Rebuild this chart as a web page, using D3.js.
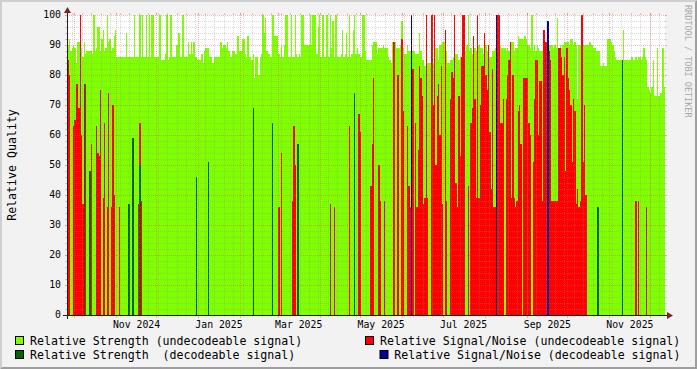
<!DOCTYPE html>
<html>
<head>
<meta charset="utf-8">
<script src="https://cdn.jsdelivr.net/npm/d3@7"></script>
<style>
  body { margin: 0; background: #f2f2f2; }
  svg { display: block; }
  text { font-family: "DejaVu Sans Mono", monospace; }
</style>
</head>
<body>
<svg id="chart" width="697" height="369"></svg>
<script>
// one value per day, starting at firstDay
var firstDay = "2024-09-25";

var strengthUndecodeable = [
  90, 90,92,88,89,90,89,84,91,91,91,89,86,91,87,88,88,88,88,87,100,88,89,96,96,88,92,95,88,89,100,91,92,88,89,93,95,
  86,86,86,86,86,86,86,94,86,86,86,86,86,100,86,86,86,100,86,100,86,86,100,86,100,86,100,100,86,86,86,86,100,85,85,85,
  87,100,85,86,100,86,86,86,90,90, 94,86,86,100,86,86,86,91,87,91, 87,91,86,86,85,85,85,87,84,88,
  89,89,89,86,86,84,86,86,86,86, 86,91,89,90,90,89,91,88,86,86, 88,88,87,93,93,88,88,92,92,87,
  86,93,86,86,85,87,79,86,86,80, 86,87,100,94,99,
  88,87,87,86,100,100,93,93,93,87, 86,90,86,90,100,100,86,86,100,86, 86,100,87,86,87,86,100,100,90,90,
  90,90,100,90,100,100,100,87,96,100, 86,100,100,86,100,100,86,100,89,98, 86,100,86,86,86,87,95,86,87,94,
  86,100,86,87,95,100,87,89,87,86, 86,100,
  100,88,85,85,85,85,90,91,91,91, 87,89,89,89,90,89,89,89,86,85, 84,91,91,91,89,89,89,90,98,89,
  87,87,90,88,88,85,88,88,87,87, 87,94,88,85,85,83,84,84,84,84, 84,84,89,89,89,85,90,90,91,91,
  88,88,84,84,85,85,86,86,87,87, 85,86,86,88,89,
  88,90,100,88,89,87,92,89,88,88, 90,89,89,87,90,90,88,86,86,86, 88,88,89,90,88,87,90,89,89,89,
  88,89,88,91,91,91,88,89,89,93, 92,92,92,92,93,92,90,90,89,100, 88,90,88,90,89,88,88,88,91,91,
  91,91,90,90,90,89,90,89,99,89, 90,89,90,91,91,91,91,90,92,92, 90,91,90,72,90,90,90,90,90,90,
  90,90,91,90,90,89,89,88,88,88, 83,83,84,83,83,92,92,92,91,90, 88,86,85,85,85,85,85,95,85,85,
  85,85,85,86,85,85,86,85,86,86, 85,86,89,86,85,76,75,74,76,85, 73,73,89,73,74,74,89,76
];

var snrUndecodeable = [
  85, 85,80,0,0,63,65,77,77,69,100, 60,37,0,77,0,0,48,57,0,0, 0,63,54,53,75,0,39,64,0,36, 74,0,36,70,40,0,
  0,0,36,0,0,0,0,0,0,37, 0,0,59,0,0,0,37,64,38,0, 0,0,0,0,0,0,0,0,0,0, 0,0,0,0,0,0,
  0,0,0,0,0,0,0,0,0,0, 0,0,0,0,0,0,0,0,0,0, 0,0,0,46,0,0,0,0,0,0, 0,0,51,0,0,0,0,0,0,0,
  0,0,0,0,0,0,0,0,0,0, 0,0,0,0,0,0,0,0,0,0, 0,0,0,0,0,69,0,0,0,0, 0,0,0,0,0,
  0,0,0,0,64,0,0,0,0,36, 0,54,0,0,0,0,0,0,0,38, 63,50,0,57,0,0,0,0,0,0, 0,0,0,0,0,0,0,0,0,0,
  0,0,0,0,0,0,0,37,0,0, 36,0,0,0,0,0,0,0,0,0, 0,63,0,0,0,74,0,0,67,61, 0,0,
  0,0,0,0,0,43,57,79,0,0, 0,50,38,0,0,38,0,0,0,0, 0,0,91,0,0,80,0,0,92,68, 0,0,63,43,36,100,82,0,64,36,
  55,83,79,73,37,39,100,39,0,0, 100,70,100,50,73,77,60,83,37,0, 95,38,0,0,72,81,79,100,44,36, 73,53,86,100,100,
  0,0,43,0,64,69,93,72,39,100, 39,70,83,83,94,80,75,90,61,42, 82,36,36,100,100,100,64,64,72,0,
  72,80,85,91,39,80,39,36,38,68, 70,57,0,79,79,79,79,64,60,0, 51,72,85,85,60,78,78,38,95,91,
  91,98,88,85,38,38,38,38,38,89, 89,86,80,86,48,89,79,75,70,51, 72,68,37,42,36,38,100,51,70,40,
  0,0,0,0,0,0,0,0,36,0, 0,0,0,0,0,0,0,0,0,0, 0,0,0,0,0,0,85,0,0,0, 0,0,0,0,0,0,38,0,38,0,
  0,0,0,0,36,0,0,0,0,0, 0,0,0,0,0,0,0,0
];

var strengthDecodeableDays = ["2024-10-08", "2024-10-12", "2024-11-10", "2024-11-13", "2024-11-18", "2024-12-30",
  "2025-01-08", "2025-02-10", "2025-02-24", "2025-03-15", "2025-04-26", "2025-10-23", "2025-11-10"];
var strengthDecodeable = [77, 48, 37, 59, 50, 46, 51, 69, 64, 57, 74, 36, 85];

var snrDecodeableDays = ["2025-06-07", "2025-08-09", "2025-09-16"];
var snrDecodeable = [100, 100, 98];

var yTicks = [0, 10, 20, 30, 40, 50, 60, 70, 80, 90, 100];
var xLabelMonths = ["2024-11", "2025-01", "2025-03", "2025-05", "2025-07", "2025-09", "2025-11"];

var width = 697;
var height = 369;
// plot box (note: "top" is reserved on window, so use own names)
var plotLeft = 67, plotRight = 665, plotTop = 15, plotBottom = 315;

var parseDay = d3.timeParse("%Y-%m-%d");
var parseMonth = d3.timeParse("%Y-%m");
var start = parseDay(firstDay);

// scales
var xScale = d3.scaleTime()
    .domain([d3.timeHour.offset(start, 14), d3.timeDay.offset(start, strengthUndecodeable.length)])
    .range([plotLeft, plotRight]);
var yScale = d3.scaleLinear().domain([0, 100]).range([plotBottom, plotTop]);

var svg = d3.select("#chart");

// background + 3d border
svg.append("rect").attr("width", width).attr("height", height).attr("fill", "#f2f2f2");
svg.append("polygon").attr("points", "0,0 697,0 695,2 2,2 2,367 0,369").attr("fill", "#cfcfcf");
svg.append("polygon").attr("points", "0,369 2,367 695,367 695,2 697,0 697,369").attr("fill", "#9e9e9e");

// canvas
svg.append("rect")
    .attr("x", plotLeft).attr("y", plotTop)
    .attr("width", plotRight - plotLeft).attr("height", plotBottom - plotTop)
    .attr("fill", "#ffffff");

svg.append("clipPath").attr("id", "plotClip")
    .append("rect")
    .attr("x", plotLeft).attr("y", plotTop)
    .attr("width", plotRight - plotLeft).attr("height", plotBottom - plotTop);

function stepData(values) {
    var pts = values.map(function(v, i) {
        return { date: d3.timeDay.offset(start, i), v: v };
    });
    pts.push({ date: d3.timeDay.offset(start, values.length), v: values[values.length - 1] });
    return pts;
}

var area = d3.area()
    .curve(d3.curveStepAfter)
    .x(function(d) { return xScale(d.date); })
    .y0(yScale(0))
    .y1(function(d) { return yScale(d.v); });

var plot = svg.append("g").attr("clip-path", "url(#plotClip)");

// relative strength (undecodeable)
plot.append("path")
    .datum(stepData(strengthUndecodeable))
    .attr("fill", "#7fff00")
    .attr("shape-rendering", "crispEdges")
    .attr("d", area);

// relative signal/noise (undecodeable)
plot.append("path")
    .datum(stepData(snrUndecodeable))
    .attr("fill", "#ff0000")
    .attr("shape-rendering", "crispEdges")
    .attr("d", area);

function dayBars(days, values, color) {
    var rows = days.map(function(s, i) { return { date: parseDay(s), v: values[i] }; });
    plot.selectAll(null)
        .data(rows)
        .enter()
        .append("rect")
        .attr("x", function(d) { return xScale(d.date); })
        .attr("width", function(d) { return xScale(d3.timeDay.offset(d.date, 1)) - xScale(d.date); })
        .attr("y", function(d) { return yScale(d.v); })
        .attr("height", function(d) { return yScale(0) - yScale(d.v); })
        .attr("fill", color)
        .attr("shape-rendering", "crispEdges");
}
dayBars(strengthDecodeableDays, strengthDecodeable, "#006600");
dayBars(snrDecodeableDays, snrDecodeable, "#000099");

// grid (drawn on top, like rrdtool)
var grid = svg.append("g").attr("shape-rendering", "crispEdges");
var minorColor = "rgba(143,143,143,0.33)";
var majorColor = "rgba(222,80,80,0.4)";

d3.range(0, 101, 2).forEach(function(v) {
    var major = v % 10 === 0;
    var yy = Math.round(yScale(v)) + 0.5;
    var c = major ? majorColor : minorColor;
    if (v > 0) {
        grid.append("line")
            .attr("x1", plotLeft - (major ? 2 : 1)).attr("x2", plotRight + (major ? 2 : 1))
            .attr("y1", yy).attr("y2", yy)
            .attr("stroke", c).attr("stroke-dasharray", "1,1");
    }
    grid.append("line").attr("x1", plotLeft - 2).attr("x2", plotLeft).attr("y1", yy).attr("y2", yy).attr("stroke", c);
    grid.append("line").attr("x1", plotRight).attr("x2", plotRight + 2).attr("y1", yy).attr("y2", yy).attr("stroke", c);
});

var weeks = d3.timeMonday.range(xScale.domain()[0], xScale.domain()[1]);
var months = d3.timeMonth.range(xScale.domain()[0], xScale.domain()[1]);

function vLine(d, major) {
    var xx = Math.floor(xScale(d)) + 0.5;
    var c = major ? majorColor : minorColor;
    grid.append("line")
        .attr("x1", xx).attr("x2", xx)
        .attr("y1", plotTop - (major ? 2 : 1)).attr("y2", plotBottom + (major ? 3 : 1))
        .attr("stroke", c).attr("stroke-dasharray", "1,1");
    grid.append("line").attr("x1", xx).attr("x2", xx).attr("y1", plotTop - 2).attr("y2", plotTop).attr("stroke", c);
    grid.append("line").attr("x1", xx).attr("x2", xx).attr("y1", plotBottom).attr("y2", plotBottom + 2).attr("stroke", c);
}
weeks.forEach(function(d) { vLine(d, false); });
months.forEach(function(d) { vLine(d, true); });

// axes
svg.append("line")
    .attr("x1", plotLeft - 4).attr("x2", plotRight + 4)
    .attr("y1", plotBottom + 0.5).attr("y2", plotBottom + 0.5)
    .attr("stroke", "#202020");
svg.append("line")
    .attr("x1", plotLeft + 0.5).attr("x2", plotLeft + 0.5)
    .attr("y1", plotBottom + 4).attr("y2", plotTop - 4)
    .attr("stroke", "#202020");
svg.append("polygon")
    .attr("points", [[plotRight + 2, plotBottom - 3], [plotRight + 2, plotBottom + 4], [plotRight + 8, plotBottom + 0.5]].join(" "))
    .attr("fill", "#802020");
svg.append("polygon")
    .attr("points", [[plotLeft - 3, plotTop - 2], [plotLeft + 4, plotTop - 2], [plotLeft + 0.5, plotTop - 8]].join(" "))
    .attr("fill", "#802020");

// y tick labels
svg.append("g").selectAll("text")
    .data(yTicks)
    .enter()
    .append("text")
    .attr("x", 61)
    .attr("y", function(d) { return yScale(d) + 3.4; })
    .attr("text-anchor", "end")
    .attr("font-size", "9.8px")
    .attr("fill", "#000")
    .text(function(d) { return d; });

// x labels, centred half a month after the month start
var fmtMonth = d3.timeFormat("%b %Y");
svg.append("g").selectAll("text")
    .data(xLabelMonths.map(parseMonth))
    .enter()
    .append("text")
    .attr("x", function(d) { return xScale(d3.timeDay.offset(d, 15)); })
    .attr("y", 328)
    .attr("text-anchor", "middle")
    .attr("font-size", "9.8px")
    .attr("fill", "#000")
    .text(function(d) { return fmtMonth(d); });

// y title
svg.append("text")
    .attr("transform", "translate(15.5,165) rotate(-90)")
    .attr("text-anchor", "middle")
    .attr("font-size", "11.6px")
    .attr("fill", "#000")
    .text("Relative Quality");

// watermark
svg.append("text")
    .attr("transform", "translate(684.5,5) rotate(90)")
    .attr("font-size", "8.5px")
    .attr("fill", "#a8a8a8")
    .text("RRDTOOL / TOBI OETIKER");

// legend
var legend = [
    { label: "Relative Strength (undecodeable signal)", color: "#7fff00", bx: 15, tx: 30, y: 336 },
    { label: "Relative Signal/Noise (undecodeable signal)", color: "#ff0000", bx: 365, tx: 380, y: 336 },
    { label: "Relative Strength  (decodeable signal)", color: "#006600", bx: 15, tx: 30, y: 350 },
    { label: "Relative Signal/Noise (decodeable signal)", color: "#000099", bx: 379.5, tx: 394.3, y: 350 }
];
var lg = svg.append("g").selectAll("g").data(legend).enter().append("g");
lg.append("rect")
    .attr("x", function(d) { return d.bx + 0.5; })
    .attr("y", function(d) { return d.y + 0.5; })
    .attr("width", 8).attr("height", 8)
    .attr("fill", function(d) { return d.color; })
    .attr("stroke", "#000")
    .attr("stroke-width", 1);
lg.append("text")
    .attr("x", function(d) { return d.tx; })
    .attr("y", function(d) { return d.y + 9.3; })
    .attr("font-size", "11.6px")
    .attr("fill", "#000")
    .attr("xml:space", "preserve")
    .style("white-space", "pre")
    .text(function(d) { return d.label; });
</script>
</body>
</html>
